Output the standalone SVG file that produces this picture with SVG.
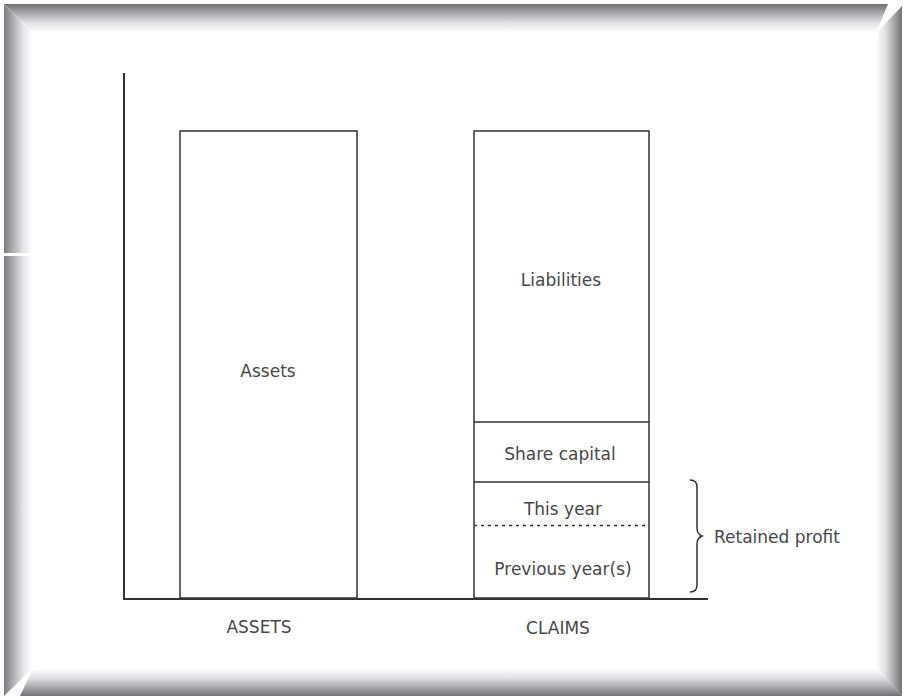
<svg xmlns="http://www.w3.org/2000/svg" width="905" height="696" viewBox="0 0 905 696">
<defs>
<linearGradient id="gTop" x1="0" y1="0" x2="0" y2="1"><stop offset="0" stop-color="#707075"/><stop offset="0.3" stop-color="#a5a5aa"/><stop offset="0.65" stop-color="#e2e2e4"/><stop offset="1" stop-color="#ffffff"/></linearGradient>
<linearGradient id="gLeft" x1="0" y1="0" x2="1" y2="0"><stop offset="0" stop-color="#7c7c82"/><stop offset="0.3" stop-color="#acacb0"/><stop offset="0.65" stop-color="#e4e4e6"/><stop offset="1" stop-color="#ffffff"/></linearGradient>
<linearGradient id="gRight" x1="1" y1="0" x2="0" y2="0"><stop offset="0" stop-color="#707075"/><stop offset="0.3" stop-color="#a5a5aa"/><stop offset="0.65" stop-color="#e2e2e4"/><stop offset="1" stop-color="#ffffff"/></linearGradient>
<linearGradient id="gBottom" x1="0" y1="1" x2="0" y2="0"><stop offset="0" stop-color="#707075"/><stop offset="0.3" stop-color="#a5a5aa"/><stop offset="0.65" stop-color="#e2e2e4"/><stop offset="1" stop-color="#ffffff"/></linearGradient>
<style>
.box{fill:#fff;stroke:#333;stroke-width:1.5}
.ln{stroke:#333;stroke-width:1.5;fill:none}
.axis{stroke:#333;stroke-width:2;fill:none}
.t{font-family:"DejaVu Sans","Liberation Sans",sans-serif;font-size:17px;fill:#484848;text-anchor:middle}
</style>
</defs>
<rect width="905" height="696" fill="#fff"/>
<g id="frame">
<polygon points="4,4 888,4 876,33 33,33" fill="url(#gTop)"/>
<polygon points="4,4 33,33 33,668 4,696" fill="url(#gLeft)"/>
<polygon points="902,6 902,696 876,668 876,33" fill="url(#gRight)"/>
<polygon points="20,696 902,696 876,668 33,668" fill="url(#gBottom)"/>
<rect x="4" y="253" width="29" height="3" fill="#fff"/>
</g>
<g id="axes">
<path class="axis" d="M124,73 V599 H708"/>
</g>
<g id="assets">
<rect class="box" x="180" y="131" width="177" height="467"/>
<text class="t" x="268" y="377">Assets</text>
</g>
<g id="claims">
<rect class="box" x="474" y="131" width="175" height="467"/>
<text class="t" x="561" y="286">Liabilities</text>
</g>
<g id="share-capital">
<line class="ln" x1="474" y1="422" x2="649" y2="422"/>
<text class="t" x="560" y="460">Share capital</text>
</g>
<g id="this-year">
<line class="ln" x1="474" y1="482" x2="649" y2="482"/>
<text class="t" x="563" y="515">This year</text>
</g>
<g id="previous-years">
<line x1="474" y1="525.5" x2="649" y2="525.5" stroke="#333" stroke-width="1.5" stroke-dasharray="3,4"/>
<text class="t" x="563" y="575">Previous year(s)</text>
</g>
<g id="connectors">
<path class="ln" d="M690,480 Q697,480 697,487 V528 Q697,534 702,536 Q697,538 697,544 V585 Q697,592 690,592" stroke-width="1.2"/>
</g>
<g id="labels">
<text class="t" x="259" y="633">ASSETS</text>
<text class="t" x="558" y="634">CLAIMS</text>
<text class="t" x="777" y="543">Retained profit</text>
</g>
</svg>
